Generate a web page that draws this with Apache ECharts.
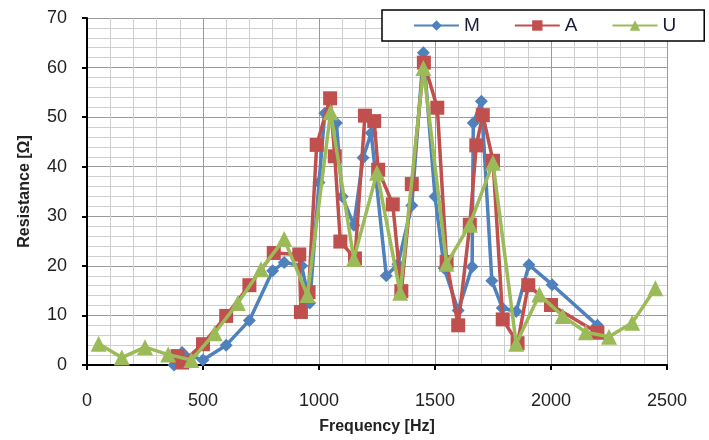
<!DOCTYPE html>
<html><head><meta charset="utf-8">
<script src="https://cdn.jsdelivr.net/npm/echarts@6/dist/echarts.min.js"></script>
<style>html,body{margin:0;padding:0;background:#fff}#c{width:709px;height:440px}</style>
</head><body><div id="c"></div>
<script>
const seriesNames = ['M', 'A', 'U'];
const xTicks = [0, 500, 1000, 1500, 2000, 2500];
const yTicks = [0, 10, 20, 30, 40, 50, 60, 70];

const freqM = [375, 410, 500, 600, 700, 800, 850, 925, 960, 1000, 1025, 1075, 1100, 1150, 1190, 1225, 1290, 1340, 1400, 1450, 1500, 1540, 1600, 1660, 1665, 1700, 1745, 1790, 1850, 1905, 2005, 2200];
const valM  = [0, 2.5, 1, 4, 9, 19, 20.7, 20, 12.5, 36.8, 50.8, 48.8, 34, 28.2, 41.8, 46.8, 18, 20.3, 32.2, 63, 34, 19.5, 11, 19.8, 48.8, 53.2, 17, 11.5, 10.8, 20.2, 16.2, 8];

const freqA = [390, 410, 500, 600, 700, 805, 915, 922, 955, 990, 1048, 1068, 1092, 1155, 1198, 1238, 1255, 1318, 1355, 1400, 1452, 1510, 1550, 1600, 1650, 1678, 1706, 1750, 1792, 1856, 1902, 2000, 2200];
const valA  = [1.8, 0.5, 4.2, 9.9, 16.1, 22.6, 22.3, 10.7, 14.7, 44.4, 53.8, 42.1, 24.9, 21.5, 50.3, 49.2, 39.4, 32.4, 14.9, 36.5, 61, 51.9, 20.8, 8, 28.3, 44.3, 50.4, 41.2, 9.2, 4.4, 16.1, 12.1, 6.5];

const freqU = [50, 150, 250, 350, 450, 550, 650, 750, 850, 950, 1050, 1150, 1250, 1350, 1450, 1550, 1650, 1750, 1850, 1950, 2050, 2150, 2250, 2350, 2450];
const valU  = [4.3, 1.5, 3.6, 2.1, 1, 6.4, 12.5, 19.3, 25.4, 14.1, 51, 21.4, 38.8, 14.6, 59.9, 20.4, 28.3, 40.8, 4.3, 14.2, 9.9, 6.6, 5.7, 8.5, 15.5];

const pairs = (xs, ys) => xs.map((x, i) => [x, ys[i]]);
const colors = ['#4F81BD', '#C0504D', '#9BBB59'];
const symbols = ['diamond', 'rect', 'triangle'];
const symbolSizes = [13, 14, 16];
const datasets = [pairs(freqM, valM), pairs(freqA, valA), pairs(freqU, valU)];

const chart = echarts.init(document.getElementById('c'), null, {renderer: 'canvas'});
const font = '"Liberation Sans", Arial, sans-serif';
chart.setOption({
  animation: false,
  backgroundColor: '#fff',
  grid: {left: 87, right: 42, top: 18, bottom: 66, containLabel: false},
  legend: {
    left: 382, top: 10,
    data: seriesNames,
    orient: 'horizontal',
    itemWidth: 45, itemHeight: 13, itemGap: 34,
    padding: [6, 28, 6, 31],
    borderColor: '#000', borderWidth: 1.5,
    backgroundColor: '#fff',
    textStyle: {fontFamily: font, fontSize: 19, color: '#1a1a3a', lineHeight: 14}
  },
  xAxis: {
    type: 'value', min: xTicks[0], max: xTicks[xTicks.length - 1], interval: 500,
    name: 'Frequency [Hz]', nameLocation: 'middle', nameGap: 54,
    nameTextStyle: {fontFamily: font, fontSize: 16, fontWeight: 'bold', color: '#222'},
    axisLine: {show: true, onZero: false, lineStyle: {color: '#000', width: 2}},
    axisTick: {show: true, inside: false, length: 5, lineStyle: {color: '#000', width: 2}},
    axisLabel: {fontFamily: font, fontSize: 18, color: '#222', margin: 27, formatter: v => String(v)},
    splitLine: {show: true, lineStyle: {color: '#9a9a9a', width: 1}},
    minorTick: {show: true, splitNumber: 5, length: 0, lineStyle: {opacity: 0}},
    minorSplitLine: {show: true, lineStyle: {color: '#cfcfcf', width: 1}}
  },
  yAxis: {
    type: 'value', min: yTicks[0], max: yTicks[yTicks.length - 1], interval: 10,
    name: 'Resistance [Ω]', nameLocation: 'middle', nameGap: 54, nameRotate: 90,
    nameTextStyle: {fontFamily: font, fontSize: 16, fontWeight: 'bold', color: '#222'},
    axisLine: {show: true, lineStyle: {color: '#000', width: 2}},
    axisTick: {show: true, inside: false, length: 5, lineStyle: {color: '#000', width: 2}},
    axisLabel: {fontFamily: font, fontSize: 18, color: '#222', margin: 20},
    splitLine: {show: true, lineStyle: {color: '#9a9a9a', width: 1}},
    minorTick: {show: true, splitNumber: 5, length: 0, lineStyle: {opacity: 0}},
    minorSplitLine: {show: true, lineStyle: {color: '#cfcfcf', width: 1}}
  },
  series: seriesNames.map((n, i) => ({
    name: n, type: 'line', data: datasets[i],
    symbol: symbols[i], symbolSize: symbolSizes[i], showAllSymbol: true,
    itemStyle: {color: colors[i]},
    lineStyle: {color: colors[i], width: 3.5},
    z: 2 + i
  }))
});
</script></body></html>
